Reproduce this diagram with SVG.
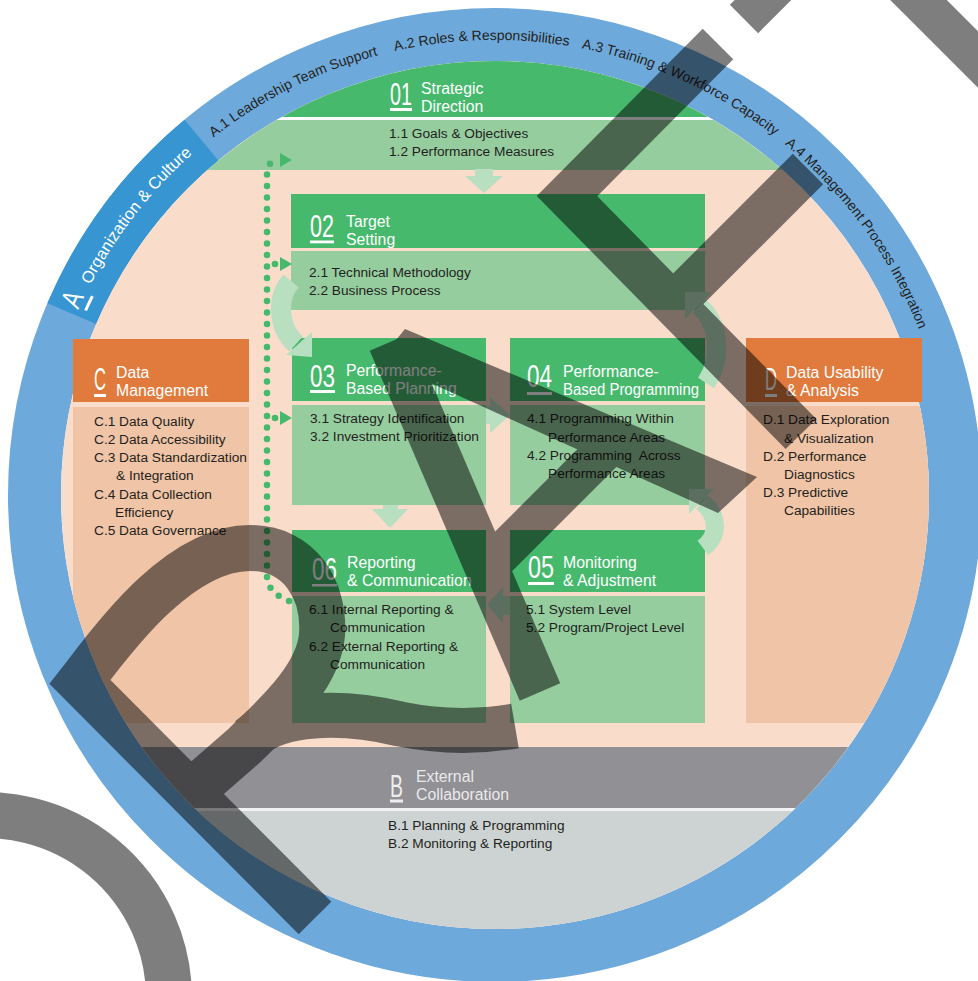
<svg xmlns="http://www.w3.org/2000/svg" width="978" height="981" viewBox="0 0 978 981">
<defs>
<style>
text{font-family:'Liberation Sans',Arial,sans-serif}
.t{fill:#fff;font-size:15.8px}
.b{fill:#231f20;font-size:13.7px}
.n{fill:#fff;font-size:31px}
.r{fill:#231f20;font-size:14px}
.hd{fill:#46b96d}
.bd{fill:#96cd9f}
.pa{fill:#b9dfc1}
.ps{fill:none;stroke:#b9dfc1}
.ul{fill:#fff}
.or{fill:#e07b3d}
.tan{fill:#f0c4a6}
</style>
<clipPath id="inner"><circle cx="495" cy="495" r="434"/></clipPath>
<path id="ringArc" d="M 146.4 202.5 A 455 455 0 0 1 943.1 416"/>
<path id="arcA" d="M 54.5 377 A 456 456 0 0 1 267 100.1"/>
</defs>

<g id="ring">
<circle cx="495" cy="495" r="460.5" fill="none" stroke="#6ea9db" stroke-width="53"/>
<path d="M 47.4 303.2 A 487 487 0 0 1 184.6 119.8 L 218.4 160.6 A 434 434 0 0 0 96.1 324 Z" fill="#3796d2"/>
<circle cx="495" cy="495" r="434" fill="#f9dcca"/>
</g>

<g id="bands" clip-path="url(#inner)">
<rect x="0" y="0" width="978" height="117" fill="#46b96d"/>
<rect x="0" y="117" width="978" height="3" fill="#fff"/>
<rect x="0" y="120" width="978" height="50" fill="#96cd9f"/>
<rect x="0" y="747" width="978" height="61" fill="#919095"/>
<rect x="0" y="808" width="978" height="3" fill="#f2f2f2"/>
<rect x="0" y="811" width="978" height="170" fill="#cdd3d3"/>
<rect class="tan" x="73" y="407" width="176" height="316"/>
<rect class="tan" x="746" y="406" width="240" height="317"/>
</g>

<g id="node02"><rect class="hd" x="291" y="194" width="414" height="54"/><rect class="bd" x="291" y="251" width="414" height="59"/></g>
<g id="node03"><rect class="hd" x="292" y="338" width="194" height="63"/><rect class="bd" x="292" y="405" width="194" height="100"/></g>
<g id="node04"><rect class="hd" x="510" y="338" width="195" height="63"/><rect class="bd" x="510" y="405" width="195" height="100"/></g>
<g id="node06"><rect class="hd" x="292" y="530" width="194" height="62"/><rect class="bd" x="292" y="596" width="194" height="127"/></g>
<g id="node05"><rect class="hd" x="510" y="530" width="195" height="62"/><rect class="bd" x="510" y="596" width="195" height="127"/></g>
<g id="nodeC"><rect class="or" x="73" y="339" width="176" height="63"/></g>
<g id="nodeD"><rect class="or" x="746" y="338" width="176" height="64"/></g>

<g id="connectors">
<rect class="pa" x="475" y="169" width="18" height="8"/>
<polygon class="pa" points="465,176 503,176 484,193"/>
<rect class="pa" x="383" y="505" width="15" height="5"/>
<polygon class="pa" points="372,509 408,509 390,528"/>
<rect class="pa" x="486" y="406" width="5" height="18"/>
<polygon class="pa" points="490,397 490,433 510,415"/>
<rect class="pa" x="502" y="596" width="8" height="19"/>
<polygon class="pa" points="503,587 503,623 487,605"/>
<path class="ps" d="M 291 281 C 276 298, 278 328, 296 344" stroke-width="20"/>
<polygon class="pa" points="286,355 312,332 312,357"/>
<path class="ps" d="M 699 306 C 718 322, 724 356, 706 383" stroke-width="19"/>
<polygon class="pa" points="685,292 712,292 685,319"/>
<path class="ps" d="M 702 502 C 718 515, 720 535, 703 548" stroke-width="18"/>
<polygon class="pa" points="689,489 714,489 689,514"/>
<path d="M 289 601 C 276 596, 267 588, 267 576 L 267 172 C 267 166, 270 162, 276 161" fill="none" stroke="#47b96c" stroke-width="6.5" stroke-linecap="round" stroke-dasharray="0 11.5"/>
<circle cx="275" cy="264" r="3.3" fill="#47b96c"/>
<circle cx="275" cy="418" r="3.3" fill="#47b96c"/>
<polygon points="280,153 280,167 292,160" fill="#47b96c"/>
<polygon points="280,257 280,271 292,264" fill="#47b96c"/>
<polygon points="280,411 280,425 292,418" fill="#47b96c"/>
</g>

<g id="ringText">
<text class="r"><textPath href="#ringArc" startOffset="93.7">A.1 Leadership Team Support</textPath></text>
<text class="r"><textPath href="#ringArc" startOffset="296">A.2 Roles &amp; Responsibilities</textPath></text>
<text class="r"><textPath href="#ringArc" startOffset="484">A.3 Training &amp; Workforce Capacity</textPath></text>
<text class="r"><textPath href="#ringArc" startOffset="711">A.4 Management Process Integration</textPath></text>
<text style="fill:#fff;font-size:29px"><textPath href="#arcA" startOffset="71" textLength="15" lengthAdjust="spacingAndGlyphs">A</textPath></text>
<path d="M 85.6 310.5 A 449 449 0 0 1 92.4 296.2" stroke="#fff" stroke-width="3" fill="none"/>
<text style="fill:#fff;font-size:16.5px"><textPath href="#arcA" startOffset="99">Organization &amp; Culture</textPath></text>
</g>

<g id="text01">
<text class="n" x="390" y="105" textLength="22" lengthAdjust="spacingAndGlyphs">01</text>
<rect class="ul" x="390" y="108" width="22" height="3"/>
<text class="t" x="421" y="94">Strategic</text>
<text class="t" x="421" y="112">Direction</text>
<text class="b" x="389" y="138">1.1 Goals &amp; Objectives</text>
<text class="b" x="389" y="156">1.2 Performance Measures</text>
</g>
<g id="text02">
<text class="n" x="310" y="237" textLength="24" lengthAdjust="spacingAndGlyphs">02</text>
<rect class="ul" x="310" y="240.5" width="24" height="2.8"/>
<text class="t" x="346" y="227">Target</text>
<text class="t" x="346" y="245">Setting</text>
<text class="b" x="309" y="277">2.1 Technical Methodology</text>
<text class="b" x="309" y="295">2.2 Business Process</text>
</g>
<g id="text03">
<text class="n" x="310" y="387" textLength="25" lengthAdjust="spacingAndGlyphs">03</text>
<rect class="ul" x="310" y="390" width="25" height="3"/>
<text class="t" x="346" y="376">Performance-</text>
<text class="t" x="346" y="394">Based Planning</text>
<text class="b" x="310" y="423">3.1 Strategy Identification</text>
<text class="b" x="310" y="441">3.2 Investment Prioritization</text>
</g>
<g id="text04">
<text class="n" x="527" y="387" textLength="25" lengthAdjust="spacingAndGlyphs">04</text>
<rect class="ul" x="527" y="392" width="25" height="3"/>
<text class="t" x="563" y="377">Performance-</text>
<text class="t" x="563" y="395" textLength="136" lengthAdjust="spacingAndGlyphs">Based Programming</text>
<text class="b" x="527" y="423">4.1 Programming Within</text>
<text class="b" x="548" y="442">Performance Areas</text>
<text class="b" x="527" y="460">4.2 Programming&#160; Across</text>
<text class="b" x="548" y="478">Performance Areas</text>
</g>
<g id="text05">
<text class="n" x="528" y="578" textLength="26" lengthAdjust="spacingAndGlyphs">05</text>
<rect class="ul" x="528" y="582" width="26" height="3"/>
<text class="t" x="563" y="568">Monitoring</text>
<text class="t" x="563" y="586">&amp; Adjustment</text>
<text class="b" x="526" y="614">5.1 System Level</text>
<text class="b" x="526" y="632">5.2 Program/Project Level</text>
</g>
<g id="text06">
<text class="n" x="312" y="580" textLength="25" lengthAdjust="spacingAndGlyphs">06</text>
<rect class="ul" x="312" y="584" width="25" height="2.5"/>
<text class="t" x="347" y="568">Reporting</text>
<text class="t" x="347" y="586">&amp; Communication</text>
<text class="b" x="309" y="614">6.1 Internal Reporting &amp;</text>
<text class="b" x="330" y="632">Communication</text>
<text class="b" x="309" y="651">6.2 External Reporting &amp;</text>
<text class="b" x="330" y="669">Communication</text>
</g>
<g id="textC">
<text class="n" x="94" y="390" textLength="12" lengthAdjust="spacingAndGlyphs">C</text>
<rect class="ul" x="94" y="394" width="12" height="3"/>
<text class="t" x="116" y="378">Data</text>
<text class="t" x="116" y="396">Management</text>
<text class="b" x="94" y="426">C.1 Data Quality</text>
<text class="b" x="94" y="444">C.2 Data Accessibility</text>
<text class="b" x="94" y="462">C.3 Data Standardization</text>
<text class="b" x="116" y="480">&amp; Integration</text>
<text class="b" x="94" y="499">C.4 Data Collection</text>
<text class="b" x="115" y="517">Efficiency</text>
<text class="b" x="94" y="535">C.5 Data Governance</text>
</g>
<g id="textD">
<text class="n" x="765" y="390" textLength="12" lengthAdjust="spacingAndGlyphs">D</text>
<rect class="ul" x="765" y="394" width="12" height="3"/>
<text class="t" x="786" y="378">Data Usability</text>
<text class="t" x="786" y="396">&amp; Analysis</text>
<text class="b" x="763" y="424">D.1 Data Exploration</text>
<text class="b" x="784" y="443">&amp; Visualization</text>
<text class="b" x="763" y="461">D.2 Performance</text>
<text class="b" x="784" y="479">Diagnostics</text>
<text class="b" x="763" y="497">D.3 Predictive</text>
<text class="b" x="784" y="515">Capabilities</text>
</g>
<g id="textB">
<text class="n" x="390" y="797" textLength="13" lengthAdjust="spacingAndGlyphs" style="fill:#eeeeee">B</text>
<rect x="390" y="799.5" width="13" height="3" fill="#eeeeee"/>
<text class="t" x="416" y="782" style="fill:#e9e9e9">External</text>
<text class="t" x="416" y="800" style="fill:#e9e9e9">Collaboration</text>
<text class="b" x="388" y="830">B.1 Planning &amp; Programming</text>
<text class="b" x="388" y="848">B.2 Monitoring &amp; Reporting</text>
</g>

<g id="overlay" opacity="0.5" fill="none" stroke="#000" stroke-linejoin="miter" stroke-miterlimit="10">
<path d="M 718 44 L 567 196 L 801 434" stroke-width="43"/>
<path d="M 808 169 L 662 315" stroke-width="43"/>
<path d="M 744 19 L 810 -47" stroke-width="40"/>
<path d="M 880 -38.5 L 1010 91.5" stroke-width="40"/>
<path d="M -46 818 A 183 183 0 0 1 169 998" stroke-width="46"/>
<path d="M 315 918 L 80 682 C 105 650, 175 548, 250 548 C 300 548, 325 590, 322 635 C 318 680, 270 720, 245 745 L 190 793" stroke-width="46"/>
<path d="M 250 738 C 280 712, 340 710, 400 724 C 440 732, 480 732, 515 726" stroke-width="45"/>
<path d="M 390 342 L 540 692" stroke-width="44"/>
<path d="M 490 565 L 612 443" stroke-width="40"/>
<polygon points="405,329 757,477 718,513 413,375 392,345" fill="#000" stroke="none"/>
</g>
</svg>
